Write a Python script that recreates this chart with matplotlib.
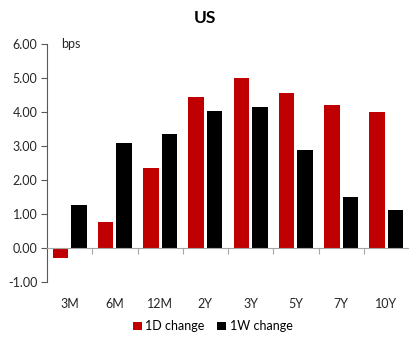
import numpy as np
import matplotlib
matplotlib.use('Agg')
import matplotlib.pyplot as plt

tenors = ['3M', '6M', '12M', '2Y', '3Y', '5Y', '7Y', '10Y']
chg_1d = [-0.28, 0.75, 2.36, 4.44, 5.00, 4.55, 4.22, 4.00]
chg_1w = [1.27, 3.09, 3.34, 4.02, 4.16, 2.88, 1.50, 1.11]

plt.rcParams['font.family'] = ['Lato', 'DejaVu Sans']

fig = plt.figure(figsize=(4.09, 3.40), dpi=100)
ax = fig.add_axes([0.115, 0.1706, 0.885, 0.70])

x = np.arange(len(tenors))
w = 0.34
ax.bar(x - 0.205, chg_1d, width=w, color='#C00000', label='1D change')
ax.bar(x + 0.205, chg_1w, width=w, color='#000000', label='1W change')

ax.set_xlim(-0.5, len(tenors) - 0.5)
ax.set_ylim(-1, 6)
ax.set_yticks(np.arange(-1, 7, 1))
ax.set_yticklabels(['%.2f' % v for v in np.arange(-1, 7, 1)], fontsize=9, color='#262626')
ax.tick_params(axis='y', direction='out', length=4, color='#595959', pad=3)

# zero line carries the category separators, labels sit below the plot
ax.spines['bottom'].set_position(('data', 0))
ax.spines['bottom'].set_color('#a6a6a6')
ax.spines['left'].set_color('#595959')
ax.spines['top'].set_visible(False)
ax.spines['right'].set_visible(False)
ax.set_xticks(x[1:] - 0.5)
ax.set_xticklabels([])
ax.tick_params(axis='x', which='major', direction='out', length=4, color='#a6a6a6')
ax.set_xticks(x, minor=True)
ax.set_xticklabels(tenors, minor=True, fontsize=9, color='#262626')
ax.tick_params(axis='x', which='minor', length=0, pad=36)

ax.text(0.04, 1.0, 'bps', transform=ax.transAxes, fontsize=9, color='#262626', va='center')
fig.text(0.5, 0.947, 'US', ha='center', va='center', fontsize=12.5, fontweight='bold')

fig.legend(loc='center', bbox_to_anchor=(0.52, 0.04), ncol=2, frameon=False,
           fontsize=9, handlelength=0.7, handleheight=0.7, handletextpad=0.3,
           columnspacing=1.0)

fig.savefig('out.png', dpi=100)
